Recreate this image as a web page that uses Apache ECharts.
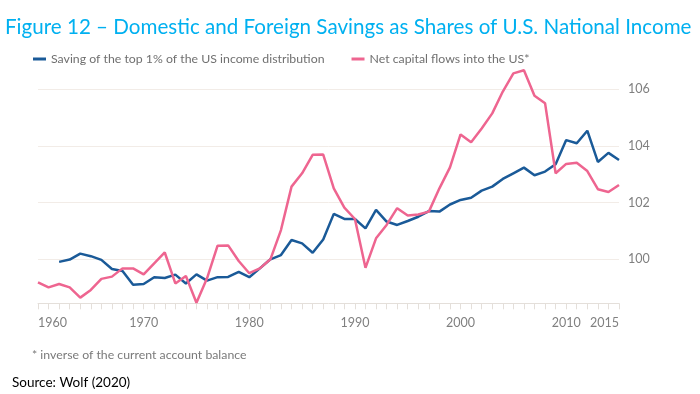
<!DOCTYPE html>
<html>
<head>
<meta charset="utf-8">
<script src="https://cdn.jsdelivr.net/npm/echarts@6/dist/echarts.min.js"></script>
<style>html,body{margin:0;padding:0;background:#fff;}#c{width:700px;height:394px;}</style>
</head>
<body>
<div id="c"></div>
<script>
const years = ['1960','1961','1962','1963','1964','1965','1966','1967','1968','1969',
  '1970','1971','1972','1973','1974','1975','1976','1977','1978','1979',
  '1980','1981','1982','1983','1984','1985','1986','1987','1988','1989',
  '1990','1991','1992','1993','1994','1995','1996','1997','1998','1999',
  '2000','2001','2002','2003','2004','2005','2006','2007','2008','2009',
  '2010','2011','2012','2013','2014','2015'];
const xTickLabels = ['1960','1970','1980','1990','2000','2010','2015'];
const yTickLabels = [100, 102, 104, 106];
const top1Saving = [null, null, 99.91, 99.99, 100.2, 100.11, 99.98, 99.66, 99.59, 99.10,
  99.13, 99.37, 99.34, 99.46, 99.15, 99.47, 99.25, 99.37, 99.38, 99.56,
  99.37, 99.68, 100.0, 100.15, 100.68, 100.56, 100.23, 100.70, 101.60, 101.42,
  101.42, 101.09, 101.74, 101.33, 101.21, 101.35, 101.50, 101.70, 101.68, 101.93,
  102.09, 102.17, 102.42, 102.56, 102.83, 103.03, 103.23, 102.96, 103.09, 103.35,
  104.20, 104.09, 104.53, 103.43, 103.75, 103.50];
const netCapitalFlows = [99.19, 99.01, 99.13, 99.01, 98.65, 98.92, 99.31, 99.39, 99.68, 99.68,
  99.47, 99.86, 100.24, 99.15, 99.41, 98.47, 99.33, 100.48, 100.49, 99.94,
  99.51, 99.68, 100.0, 101.03, 102.56, 103.03, 103.68, 103.69, 102.50, 101.82,
  101.42, 99.70, 100.74, 101.21, 101.80, 101.54, 101.58, 101.68, 102.50, 103.24,
  104.40, 104.12, 104.61, 105.14, 105.91, 106.55, 106.66, 105.76, 105.50, 103.03,
  103.36, 103.40, 103.11, 102.47, 102.37, 102.62];
const seriesNames = ['Saving of the top 1% of the US income distribution', 'Net capital flows into the US*'];

const chart = echarts.init(document.getElementById('c'), null, {renderer: 'canvas'});
chart.setOption({
  animation: false,
  backgroundColor: '#ffffff',
  title: [
    {text: 'Figure 12 \u2013 Domestic and Foreign Savings as Shares of U.S. National Income', left: 0, top: 12,
     textStyle: {color: '#00b0f0', fontFamily: 'Lato', fontWeight: 'normal', fontSize: 20.6}},
    {text: '* inverse of the current account balance', left: 27, top: 344,
     textStyle: {color: '#7a7a7a', fontFamily: 'Lato', fontWeight: 'normal', fontSize: 12.3}},
    {text: 'Source: Wolf (2020)', left: 7, top: 371,
     textStyle: {color: '#000000', fontFamily: 'Lato', fontWeight: 'normal', fontSize: 13.5}}
  ],
  legend: {
    left: 28, top: 48, icon: 'rect', itemWidth: 13, itemHeight: 3, itemGap: 27,
    textStyle: {color: '#707070', fontFamily: 'Lato', fontSize: 12.3},
    data: seriesNames
  },
  grid: {left: 38, right: 81, top: 60.6, bottom: 90.7},
  xAxis: {
    type: 'category', data: years, boundaryGap: false,
    axisLine: {show: true, lineStyle: {color: '#e4dfda', width: 1}},
    axisTick: {show: true, interval: 0, length: 6, lineStyle: {color: '#e4dfda'}},
    axisLabel: {
      interval: function (i, v) { return xTickLabels.indexOf(v) >= 0; },
      color: '#808080', fontFamily: 'Lato', fontSize: 12.5, margin: 13,
      alignMinLabel: 'left', alignMaxLabel: 'right'
    },
    splitLine: {show: false}
  },
  yAxis: {
    type: 'value', position: 'right', min: 98.45, max: 107,
    axisLine: {show: false},
    axisTick: {show: false, customValues: yTickLabels},
    axisLabel: {customValues: yTickLabels, color: '#808080', fontFamily: 'Lato', fontSize: 12.5, margin: 9},
    splitLine: {show: true, lineStyle: {color: '#f2ece7', width: 1}}
  },
  series: [
    {name: seriesNames[0], type: 'line', data: top1Saving, showSymbol: false, connectNulls: false,
     lineStyle: {color: '#1a5a98', width: 2.5}, itemStyle: {color: '#1a5a98'}},
    {name: seriesNames[1], type: 'line', data: netCapitalFlows, showSymbol: false,
     lineStyle: {color: '#ee6590', width: 2.5}, itemStyle: {color: '#ee6590'}}
  ]
});
</script>
</body>
</html>
